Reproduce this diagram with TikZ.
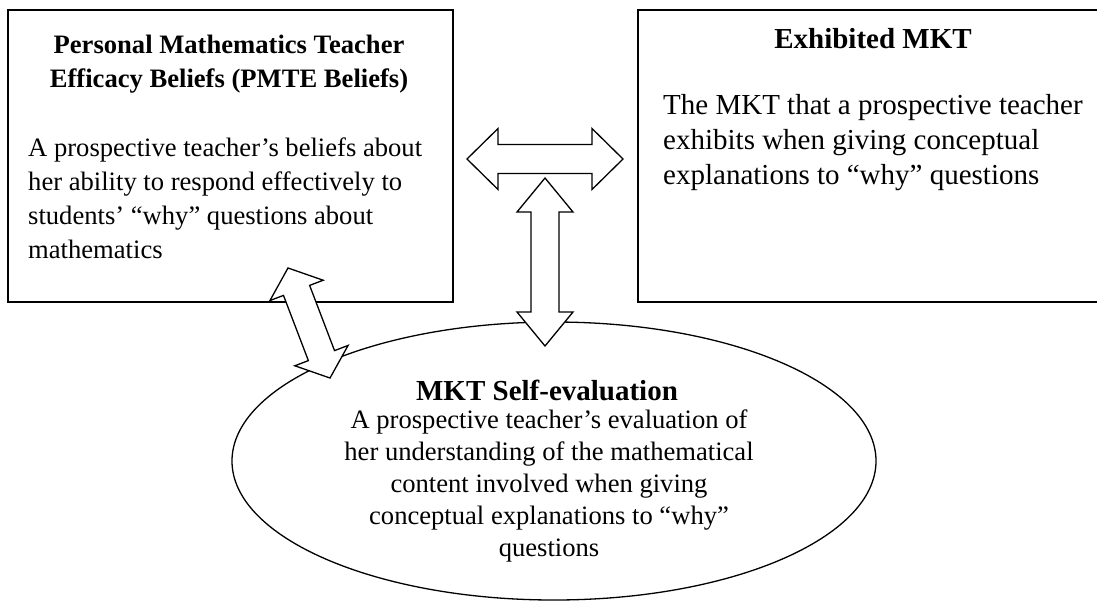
\documentclass[tikz,border=0pt]{standalone}
\usepackage{fontspec}
\setmainfont{Liberation Serif}
\usetikzlibrary{shapes.geometric}
\newcommand\linesL[1]{\begin{tabular}[t]{@{}l@{}}#1\end{tabular}}
\newcommand\linesC[1]{\begin{tabular}[t]{@{}c@{}}#1\end{tabular}}
\tikzset{
  box/.style={draw, line width=1.5pt, inner sep=0pt},
  oval/.style={ellipse, draw, line width=1.3pt, inner sep=0pt},
  blockarrow/.style={draw, fill=white, line width=1.3pt, line join=miter},
  txt/.style={inner sep=0pt, anchor=base},
  txtL/.style={inner sep=0pt, anchor=base west},
  fLeft/.style={font=\fontsize{26.6}{34}\selectfont},
  fLeftB/.style={font=\fontsize{26.6}{34}\selectfont\bfseries},
  fRight/.style={font=\fontsize{29}{35}\selectfont},
  fRightB/.style={font=\fontsize{29}{35}\selectfont\bfseries},
  fOval/.style={font=\fontsize{26.6}{32}\selectfont},
  fOvalB/.style={font=\fontsize{29}{32}\selectfont\bfseries},
  pics/dblarrow/.style n args={4}{code={
    \draw[blockarrow] (-#1,0) -- (-#1+#4,#2) -- (-#1+#4,#3) -- (#1-#4,#3)
      -- (#1-#4,#2) -- (#1,0) -- (#1-#4,-#2) -- (#1-#4,-#3)
      -- (-#1+#4,-#3) -- (-#1+#4,-#2) -- cycle;
  }},
}
\begin{document}
\begin{tikzpicture}[x=1pt,y=-1pt]
\useasboundingbox (0,0) rectangle (1097,603);
% boxes
\node[box, minimum width=445pt, minimum height=292pt] (pm) at (230.5,156) {};
\node[box, minimum width=461pt, minimum height=292pt] (ex) at (868.5,156) {};
\node[oval, minimum width=644pt, minimum height=278pt] (se) at (554,461) {};
% left box text
\node[txt, fLeftB] (pmt) at (229,53) {\linesC{Personal Mathematics Teacher\\Efficacy Beliefs (PMTE Beliefs)}};
\node[txtL, fLeft] (pmb) at (28,156) {\linesL{A prospective teacher’s beliefs about\\her ability to respond effectively to\\students’ “why” questions about\\mathematics}};
% right box text
\node[txt, fRightB] (ext) at (873,48) {Exhibited MKT};
\node[txtL, fRight] (exb) at (663,114.5) {\linesL{The MKT that a prospective teacher\\exhibits when giving conceptual\\explanations to “why” questions}};
% ellipse text
\node[txt, fOvalB] (set) at (547,400) {MKT Self-evaluation};
\node[txt, fOval] (seb) at (549,428) {\linesC{A prospective teacher’s evaluation of\\her understanding of the mathematical\\content involved when giving\\conceptual explanations to “why”\\questions}};
% block arrows
\pic at (545,159) {dblarrow={78}{30.5}{14.5}{31}};
\pic[rotate=90] at (545,262) {dblarrow={84}{28}{14}{34}};
\pic[rotate=-69.1] at (309,323) {dblarrow={58.9}{28.5}{14}{24}};
\end{tikzpicture}
\end{document}
